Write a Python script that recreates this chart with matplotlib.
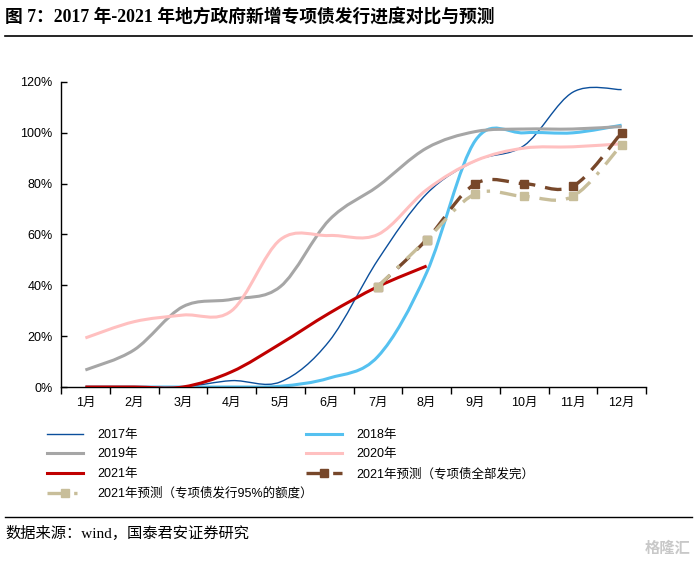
import numpy as np
import matplotlib
matplotlib.use("Agg")
from matplotlib import pyplot as plt
from matplotlib.path import Path
from matplotlib.patches import PathPatch
from matplotlib.lines import Line2D

plt.rcParams['font.family'] = ['Liberation Sans', 'Noto Sans CJK SC']

months = ["1月", "2月", "3月", "4月", "5月", "6月", "7月", "8月", "9月", "10月", "11月", "12月"]
y2017 = [0.0, 0.0, 0.0, 0.025, 0.02, 0.18, 0.50, 0.76, 0.89, 0.95, 1.16, 1.17]
y2018 = [0.0, 0.0, 0.0, 0.0, 0.003, 0.035, 0.12, 0.45, 0.97, 1.00, 1.00, 1.03]
y2019 = [0.067, 0.146, 0.316, 0.345, 0.395, 0.657, 0.79, 0.94, 1.005, 1.015, 1.015, 1.025]
y2020 = [0.193, 0.257, 0.283, 0.30, 0.58, 0.596, 0.60, 0.776, 0.89, 0.94, 0.945, 0.957]
y2021 = [0.0, 0.0, 0.0, 0.06, 0.17, 0.29, 0.395, 0.476]
fc_months = [7, 8, 9, 10, 11, 12]
fc_full = [0.395, 0.58, 0.80, 0.80, 0.79, 1.00]
fc_95 = [0.395, 0.58, 0.76, 0.75, 0.75, 0.953]

c2017 = "#0B4F9C"
c2018 = "#55C1F0"
c2019 = "#A6A6A6"
c2020 = "#FFC0C0"
c2021 = "#C00000"
cfull = "#77472A"
c95 = "#C8BE9A"


def smooth_path(xs, ys, t=1.0 / 6):
    """Excel-like smoothed curve as cubic bezier path"""
    pts = np.column_stack([xs, ys]).astype(float)
    n = len(pts)
    verts = [pts[0]]
    codes = [Path.MOVETO]
    for i in range(n - 1):
        p0 = pts[max(i - 1, 0)]
        p1 = pts[i]
        p2 = pts[i + 1]
        p3 = pts[min(i + 2, n - 1)]
        verts += [p1 + (p2 - p0) * t, p2 - (p3 - p1) * t, p2]
        codes += [Path.CURVE4] * 3
    return Path(verts, codes)


def draw(ax, xs, ys, color, lw, ls="-", zorder=2):
    patch = PathPatch(smooth_path(xs, ys), fill=False, edgecolor=color,
                      lw=lw, linestyle=ls, zorder=zorder, capstyle="butt")
    ax.add_patch(patch)


fig = plt.figure(figsize=(6.97, 5.63), dpi=100)
ax = fig.add_axes([61 / 697, 1 - 387 / 563, 585 / 697, 305 / 563])

x = np.arange(1, 13)
draw(ax, x, y2017, c2017, 1.0)
draw(ax, x, y2018, c2018, 2.2)
draw(ax, x, y2019, c2019, 2.2)
draw(ax, x, y2020, c2020, 2.2)
draw(ax, x[:len(y2021)], y2021, c2021, 2.2, zorder=3)
dash_full = (0, (5, 3))
dash_95 = (0, (5, 3, 1, 3))
draw(ax, fc_months, fc_full, cfull, 2.4, dash_full, zorder=4)
ax.plot(fc_months, fc_full, ls="none", marker="s", ms=6, color=cfull, zorder=4)
draw(ax, fc_months, fc_95, c95, 2.4, dash_95, zorder=5)
ax.plot(fc_months, fc_95, ls="none", marker="s", ms=6, color=c95, zorder=5)

ax.set_xlim(0.5, 12.5)
ax.set_ylim(0, 1.2)
ax.set_yticks(np.arange(0, 1.21, 0.2))
ax.set_yticklabels(["%d%%" % round(v * 100) for v in np.arange(0, 1.21, 0.2)])
ax.set_xticks(np.arange(0.5, 12.6, 1.0))
ax.set_xticklabels([])
ax.set_xticks(x, minor=True)
ax.set_xticklabels(months, minor=True)
ax.tick_params(axis="x", which="major", direction="out", length=5, width=1)
ax.tick_params(axis="x", which="minor", length=0, pad=7, labelsize=9)
ax.tick_params(axis="y", direction="in", length=4, width=1, pad=6, labelsize=9)
for s in ["top", "right"]:
    ax.spines[s].set_visible(False)
for s in ["left", "bottom"]:
    ax.spines[s].set_linewidth(1.0)

# legends
h2017 = Line2D([], [], color=c2017, lw=1.0)
h2018 = Line2D([], [], color=c2018, lw=2.2)
h2019 = Line2D([], [], color=c2019, lw=2.2)
h2020 = Line2D([], [], color=c2020, lw=2.2)
h2021 = Line2D([], [], color=c2021, lw=2.2)
hfull = Line2D([], [], color=cfull, lw=2.4, ls=dash_full, marker="s", ms=6)
h95 = Line2D([], [], color=c95, lw=2.4, ls=dash_95, marker="s", ms=6)

leg_kw = dict(frameon=False, fontsize=9, handlelength=2.9, handletextpad=1.1,
              labelspacing=0.6, borderpad=0, borderaxespad=0, loc="upper left")
leg1 = fig.legend([h2017, h2019, h2021, h95],
                  ["2017年", "2019年", "2021年", "2021年预测（专项债发行95%的额度）"],
                  bbox_to_anchor=(47 / 697, 1 - 429 / 563), **leg_kw)
leg2 = fig.legend([h2018, h2020, hfull],
                  ["2018年", "2020年", "2021年预测（专项债全部发完）"],
                  bbox_to_anchor=(306 / 697, 1 - 429 / 563), **leg_kw)

# title, rules, source
fig.text(5 / 697, 1 - 23 / 563, "图 7：2017 年-2021 年地方政府新增专项债发行进度对比与预测",
         fontsize=12.8, fontweight="bold", va="baseline",
         family=["Liberation Serif", "Noto Sans CJK SC"])
fig.add_artist(Line2D([5 / 697, 692 / 697], [1 - 36 / 563] * 2, color="black", lw=1.2))
fig.add_artist(Line2D([5 / 697, 692 / 697], [1 - 517 / 563] * 2, color="black", lw=1.0))
fig.text(5 / 697, 1 - 538 / 563, "数据来源：wind，国泰君安证券研究", fontsize=11,
         va="baseline", family=["Liberation Serif", "Noto Sans CJK SC"])
fig.text(690 / 697, 1 - 553 / 563, "格隆汇", fontsize=11, color="#C8C8C8",
         ha="right", va="baseline", fontweight="bold")

fig.savefig("out.png", dpi=100)
